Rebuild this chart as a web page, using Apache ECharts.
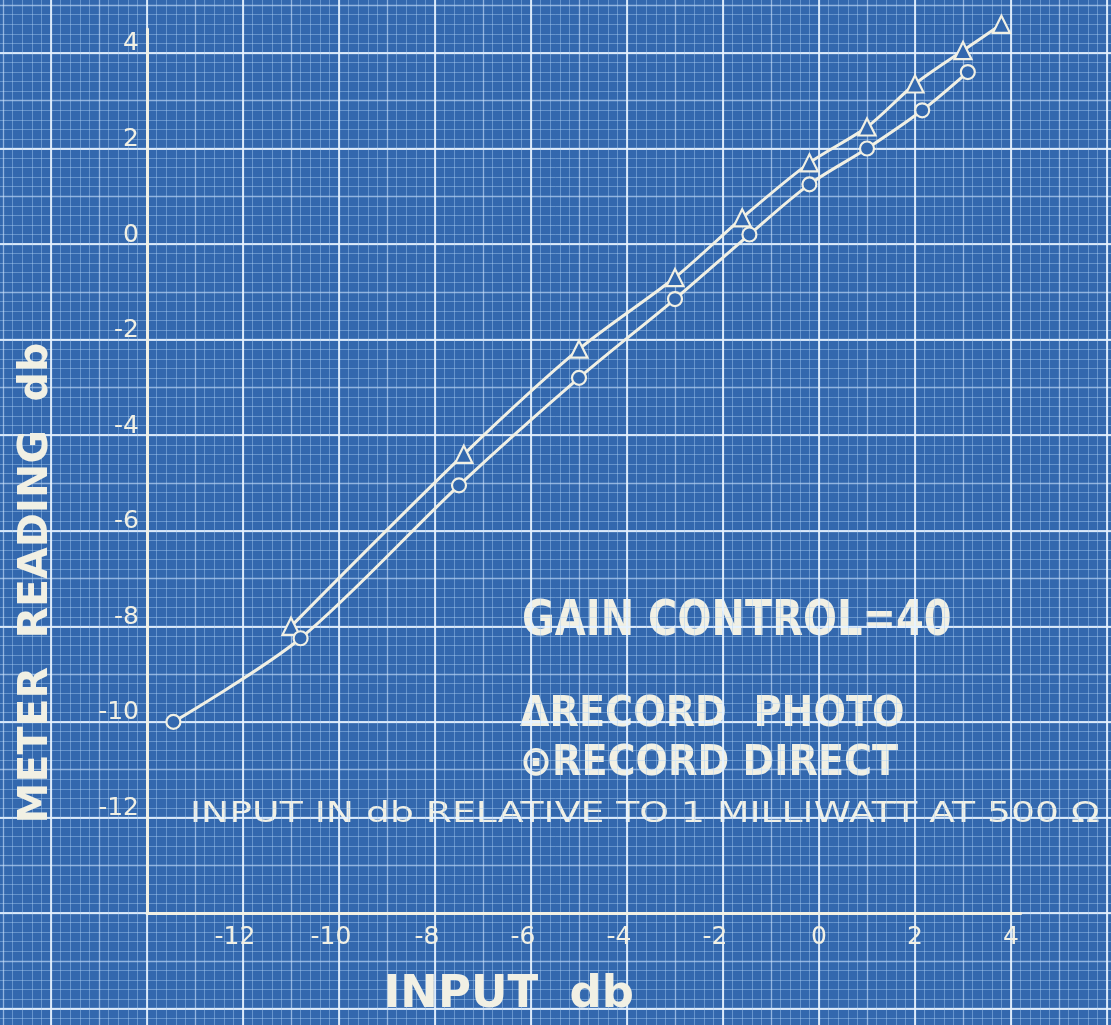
<!DOCTYPE html>
<html>
<head>
<meta charset="utf-8">
<script src="https://cdn.jsdelivr.net/npm/echarts@6/dist/echarts.min.js"></script>
<style>
html,body{margin:0;padding:0;background:#3368ae;}
#chart{width:1111px;height:1025px;}
</style>
</head>
<body>
<div id="chart"></div>
<script>
// ---- data ----
const photoInput  = [-11.0, -7.4, -5.0, -3.0, -1.6, -0.2, 1.0, 2.0, 3.0, 3.8];
const photoMeter  = [-8.0, -4.4, -2.2, -0.7, 0.55, 1.7, 2.45, 3.35, 4.05, 4.6];
const directInput = [-13.45, -10.8, -7.5, -5.0, -3.0, -1.45, -0.2, 1.0, 2.15, 3.1];
const directMeter = [-10.0, -8.25, -5.05, -2.8, -1.15, 0.2, 1.25, 2.0, 2.8, 3.6];
const xTickValues = [-12, -10, -8, -6, -4, -2, 0, 2, 4];
const yTickValues = [-12, -10, -8, -6, -4, -2, 0, 2, 4];
const xTitle = 'INPUT  db';
const yTitle = 'METER  READING  db';
const noteGain = 'GAIN CONTROL=40';
const notePhoto = 'ΔRECORD  PHOTO';
const noteDirect = '⊙RECORD DIRECT';
const noteInput = 'INPUT IN db RELATIVE TO 1 MILLIWATT AT 500 Ω';

// ---- layout ----
const W = 1111, H = 1025;
const ox = 147, oy = 913;       // pixel of (-14,-14)
const ppuX = 48, ppuY = 47.78;  // pixels per unit
const axMin = -14, xMax = 4.2, yMax = 4.5;
const bgXMin = -18, bgXMax = 8, bgYMin = -18, bgYMax = 6;

const ink = '#f1f0e4';
const paper = '#3368ae';

function zip(a, b) { return a.map((v, i) => [v, b[i]]); }

const bgGrid = {
  left: ox - (axMin - bgXMin) * ppuX,
  right: W - (ox + (bgXMax - axMin) * ppuX),
  top: oy - (bgYMax - axMin) * ppuY,
  bottom: H - (oy + (axMin - bgYMin) * ppuY),
  outerBoundsMode: 'none', containLabel: false
};
const dataGrid = {
  left: ox,
  right: W - (ox + (xMax - axMin) * ppuX),
  top: oy - (yMax - axMin) * ppuY,
  bottom: H - oy,
  outerBoundsMode: 'none', containLabel: false
};

const hidden = { axisLine: {show: false}, axisTick: {show: false}, axisLabel: {show: false} };
const minorLine = { show: true, lineStyle: { color: 'rgba(175,210,245,0.42)', width: 1 } };
const medLine = { show: true, lineStyle: { color: 'rgba(210,232,255,0.6)', width: 1.3 } };
const majLine = { show: true, lineStyle: { color: 'rgba(232,243,255,0.85)', width: 2 } };

const chart = echarts.init(document.getElementById('chart'), null, {renderer: 'canvas'});
chart.setOption({
  backgroundColor: paper,
  animation: false,
  grid: [ bgGrid, dataGrid ],
  xAxis: [
    Object.assign({ gridIndex: 0, type: 'value', min: bgXMin, max: bgXMax, interval: 1,
      splitLine: medLine, minorTick: {show: false, splitNumber: 5}, minorSplitLine: minorLine }, hidden),
    Object.assign({ gridIndex: 0, type: 'value', position: 'top', min: bgXMin, max: bgXMax, interval: 2,
      splitLine: majLine }, hidden),
    { gridIndex: 1, type: 'value', min: axMin, max: xMax, interval: 2,
      axisLine: { show: true, onZero: false, lineStyle: { color: ink, width: 3 } },
      axisTick: { show: false },
      splitLine: { show: false },
      axisLabel: { show: true, customValues: xTickValues, color: ink, fontSize: 25,
        fontFamily: 'DejaVu Sans', margin: 12,
        formatter: v => v < 0 ? '{neg|' + v + '}' : String(v),
        rich: { neg: { color: ink, fontSize: 25, fontFamily: 'DejaVu Sans', padding: [0, 16, 0, 0] } } },
      name: xTitle, nameLocation: 'middle', nameGap: 60,
      nameTextStyle: { color: ink, fontSize: 45, fontWeight: 'bold', fontFamily: 'DejaVu Sans',
        padding: [0, 150, 0, 0] }
    }
  ],
  yAxis: [
    Object.assign({ gridIndex: 0, type: 'value', min: bgYMin, max: bgYMax, interval: 1,
      splitLine: medLine, minorTick: {show: false, splitNumber: 5}, minorSplitLine: minorLine }, hidden),
    Object.assign({ gridIndex: 0, type: 'value', position: 'right', min: bgYMin, max: bgYMax, interval: 2,
      splitLine: majLine }, hidden),
    { gridIndex: 1, type: 'value', min: axMin, max: yMax, interval: 2,
      axisLine: { show: true, onZero: false, lineStyle: { color: ink, width: 3 } },
      axisTick: { show: false },
      splitLine: { show: false },
      axisLabel: { show: true, customValues: yTickValues, color: ink, fontSize: 25,
        fontFamily: 'DejaVu Sans', margin: 8, verticalAlign: 'bottom', lineHeight: 18 },
      name: yTitle, nameLocation: 'middle', nameGap: 90,
      nameTextStyle: { color: ink, fontSize: 41, fontWeight: 'bold', fontFamily: 'DejaVu Sans',
        padding: [0, 224, 0, 0] }
    }
  ],
  series: [
    {
      name: 'RECORD PHOTO', type: 'line', xAxisIndex: 2, yAxisIndex: 2,
      data: zip(photoInput, photoMeter), smooth: 0.3, clip: false,
      symbol: 'triangle', symbolSize: 17,
      lineStyle: { color: ink, width: 3 },
      itemStyle: { color: paper, borderColor: ink, borderWidth: 2.2 }
    },
    {
      name: 'RECORD DIRECT', type: 'line', xAxisIndex: 2, yAxisIndex: 2,
      data: zip(directInput, directMeter), smooth: 0.3, clip: false,
      symbol: 'circle', symbolSize: 14,
      lineStyle: { color: ink, width: 3 },
      itemStyle: { color: paper, borderColor: ink, borderWidth: 2.2 }
    }
  ],
  graphic: [
    { type: 'text', x: 522, y: 597, scaleX: 0.8, style: { text: noteGain, fill: ink,
      font: 'bold 50px "DejaVu Sans"' } },
    { type: 'text', x: 520, y: 694, scaleX: 0.91, style: { text: notePhoto, fill: ink,
      font: 'bold 42px "DejaVu Sans"' } },
    { type: 'text', x: 520, y: 743, scaleX: 0.91, style: { text: noteDirect, fill: ink,
      font: 'bold 42px "DejaVu Sans"' } },
    { type: 'text', x: 190, y: 800, scaleX: 1.3, style: { text: noteInput, fill: ink,
      font: '29px "DejaVu Sans"' } }
  ]
});
</script>
</body>
</html>
